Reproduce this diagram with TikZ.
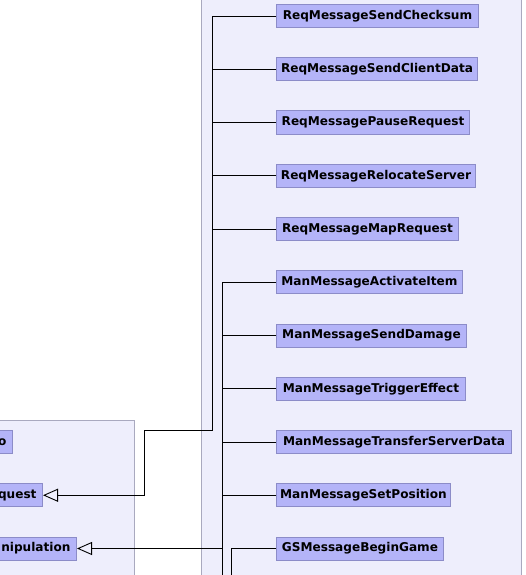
\documentclass[tikz,border=0pt]{standalone}
\usepackage{fontspec}
\setmainfont{DejaVu Sans}
\usetikzlibrary{arrows.meta}
\definecolor{pkgfill}{HTML}{EEEEFC}
\definecolor{pkgline}{HTML}{A9A9BF}
\definecolor{clsfill}{HTML}{B4B4F8}
\definecolor{clsline}{HTML}{8C8CC8}
\tikzset{
  pkg/.style={fill=pkgfill, draw=pkgline, line width=1pt},
  cls/.style={draw=clsline, fill=clsfill, line width=1pt, anchor=west,
    minimum height=23pt, inner xsep=0pt, inner ysep=0pt,
    font=\bfseries\fontsize{12.1}{14}\selectfont},
  lcls/.style={draw=clsline, fill=clsfill, line width=1pt, anchor=east,
    minimum height=23pt, inner xsep=6pt, inner ysep=0pt, align=right,
    font=\bfseries\fontsize{12.1}{14}\selectfont},
  conn/.style={draw=black, line width=0.9pt},
  inh/.style={conn, -{Triangle[open, length=15pt, width=13pt, line width=0.9pt]}}
}
\begin{document}
\begin{tikzpicture}[x=1pt, y=-1pt]
\useasboundingbox (0,0) rectangle (525,575);
\clip (0,0) rectangle (525,575);
% packages
\path[pkg] (201,-10) rectangle (521,590);
\path[pkg] (-10,420) rectangle (134,590);
% right classes
\node[cls, minimum width=202pt] (r1) at (276,16) {ReqMessageSendChecksum};
\node[cls, minimum width=201pt] (r2) at (276,69.25) {ReqMessageSendClientData};
\node[cls, minimum width=193pt] (r3) at (276,122.5) {ReqMessagePauseRequest};
\node[cls, minimum width=199pt] (r4) at (276,175.75) {ReqMessageRelocateServer};
\node[cls, minimum width=182pt] (r5) at (276,229) {ReqMessageMapRequest};
\node[cls, minimum width=186pt] (m1) at (276,282.25) {ManMessageActivateItem};
\node[cls, minimum width=190pt] (m2) at (276,335.5) {ManMessageSendDamage};
\node[cls, minimum width=189pt] (m3) at (276,388.75) {ManMessageTriggerEffect};
\node[cls, minimum width=235pt] (m4) at (276,442) {ManMessageTransferServerData};
\node[cls, minimum width=174pt] (m5) at (276,495.25) {ManMessageSetPosition};
\node[cls, minimum width=167pt] (g1) at (276,548.5) {GSMessageBeginGame};
% left classes (cut by the picture edge)
\node[lcls, text width=21pt] (lo) at (13,442) {o};
\node[lcls, text width=51pt] (lq) at (43,495.25) {quest};
\node[lcls, text width=85pt] (ln) at (77,548.5) {nipulation};
% connector corners
\coordinate (rbend) at (212,430);
\coordinate (rleft) at (144,430);
\coordinate (mbot) at (222,590);
\coordinate (mjoin) at (222,548.5);
\coordinate (gbot) at (231,590);
% Req group
\draw[inh] (r1.west) -| (rbend) -- (rleft) |- (lq.east);
\draw[conn] (r2.west) -- (r2.west -| rbend);
\draw[conn] (r3.west) -- (r3.west -| rbend);
\draw[conn] (r4.west) -- (r4.west -| rbend);
\draw[conn] (r5.west) -- (r5.west -| rbend);
% Man group
\draw[conn] (m1.west) -| (mbot);
\draw[conn] (m2.west) -- (m2.west -| mbot);
\draw[conn] (m3.west) -- (m3.west -| mbot);
\draw[conn] (m4.west) -- (m4.west -| mbot);
\draw[conn] (m5.west) -- (m5.west -| mbot);
\draw[inh] (mjoin) -- (ln.east);
% GS group
\draw[conn] (g1.west) -| (gbot);
\end{tikzpicture}
\end{document}
